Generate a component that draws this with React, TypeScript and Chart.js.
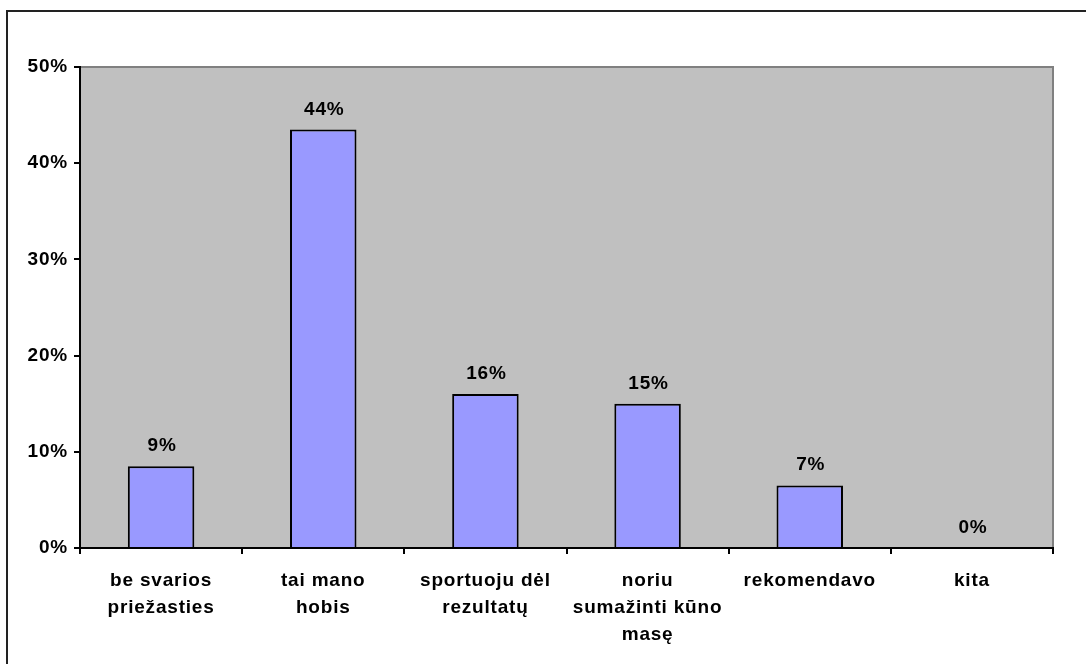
import React, { useEffect, useRef } from "react";
import { Chart, registerables } from "chart.js";

Chart.register(...registerables);

const categories: string[][] = [
  ["be svarios", "priežasties"],
  ["tai mano", "hobis"],
  ["sportuoju dėl", "rezultatų"],
  ["noriu", "sumažinti kūno", "masę"],
  ["rekomendavo"],
  ["kita"],
];
const values: number[] = [8.5, 43.5, 16, 15, 6.5, 0];
const valueLabels: string[] = ["9%", "44%", "16%", "15%", "7%", "0%"];
const yTicks: number[] = [0, 10, 20, 30, 40, 50];

const SPACING = "0.8px";
const FONT = { family: "'Liberation Sans', Arial, sans-serif", size: 19, weight: "bold" as const, lineHeight: 27 / 19 };

const spacingPlugin = {
  id: "spacing",
  beforeLayout(chart: any) {
    chart.ctx.letterSpacing = SPACING;
  },
  beforeDraw(chart: any) {
    const ctx = chart.ctx;
    ctx.letterSpacing = SPACING;
    const a = chart.chartArea;
    ctx.save();
    ctx.fillStyle = "#C0C0C0";
    ctx.fillRect(a.left, a.top, a.right - a.left, a.bottom - a.top);
    ctx.strokeStyle = "#808080";
    ctx.lineWidth = 2;
    ctx.beginPath();
    ctx.moveTo(a.left, a.top);
    ctx.lineTo(a.right, a.top);
    ctx.lineTo(a.right, a.bottom);
    ctx.stroke();
    ctx.restore();
  },
  afterDatasetsDraw(chart: any) {
    const ctx = chart.ctx;
    const meta = chart.getDatasetMeta(0);
    ctx.save();
    ctx.letterSpacing = SPACING;
    ctx.font = "bold 19px 'Liberation Sans', Arial, sans-serif";
    ctx.fillStyle = "#000";
    ctx.textAlign = "center";
    ctx.textBaseline = "alphabetic";
    meta.data.forEach((bar: any, i: number) => {
      ctx.fillText(valueLabels[i], bar.x + 1, bar.y - 15);
    });
    ctx.restore();
  },
};

export default function App() {
  const ref = useRef<HTMLCanvasElement>(null);
  useEffect(() => {
    if (!ref.current) return;
    const chart = new Chart(ref.current, {
      type: "bar",
      data: {
        labels: categories,
        datasets: [
          {
            data: values,
            backgroundColor: "#9999FF",
            borderColor: "#000000",
            borderWidth: 2,
            borderSkipped: "bottom",
            barPercentage: 0.41,
            categoryPercentage: 1,
          },
        ],
      },
      options: {
        animation: false,
        responsive: false,
        devicePixelRatio: 1,
        layout: { padding: { left: 0, top: 67, right: 33, bottom: 0 } },
        plugins: { legend: { display: false }, tooltip: { enabled: false } },
        scales: {
          x: {
            offset: true,
            grid: { offset: true, drawOnChartArea: false, drawTicks: true, tickLength: 6, color: "#000", lineWidth: 2 },
            border: { display: true, color: "#000", width: 2 },
            ticks: { color: "#000", font: FONT, padding: 13, maxRotation: 0, autoSkip: false },
            afterFit: (s: any) => { s.height = 116; },
          },
          y: {
            min: 0,
            max: 50,
            afterBuildTicks: (s: any) => { s.ticks = yTicks.map((v) => ({ value: v })); },
            grid: { drawOnChartArea: false, drawTicks: true, tickLength: 6, color: "#000", lineWidth: 2 },
            border: { display: true, color: "#000", width: 2 },
            ticks: { color: "#000", font: { ...FONT, lineHeight: 1.2 }, padding: 6, callback: (v: any) => v + "%" },
            afterFit: (s: any) => { s.width = 80; },
          },
        },
      },
      plugins: [spacingPlugin],
    });
    return () => chart.destroy();
  }, []);

  return (
    <div style={{ position: "fixed", left: 0, top: 0, width: 1086, height: 664, overflow: "hidden", background: "#fff" }}>
      <div style={{ position: "absolute", left: 6, top: 10, width: 2000, height: 2000, borderTop: "2px solid #222", borderLeft: "2px solid #222" }} />
      <canvas ref={ref} width={1086} height={664} style={{ position: "absolute", left: 0, top: 0 }} />
    </div>
  );
}
